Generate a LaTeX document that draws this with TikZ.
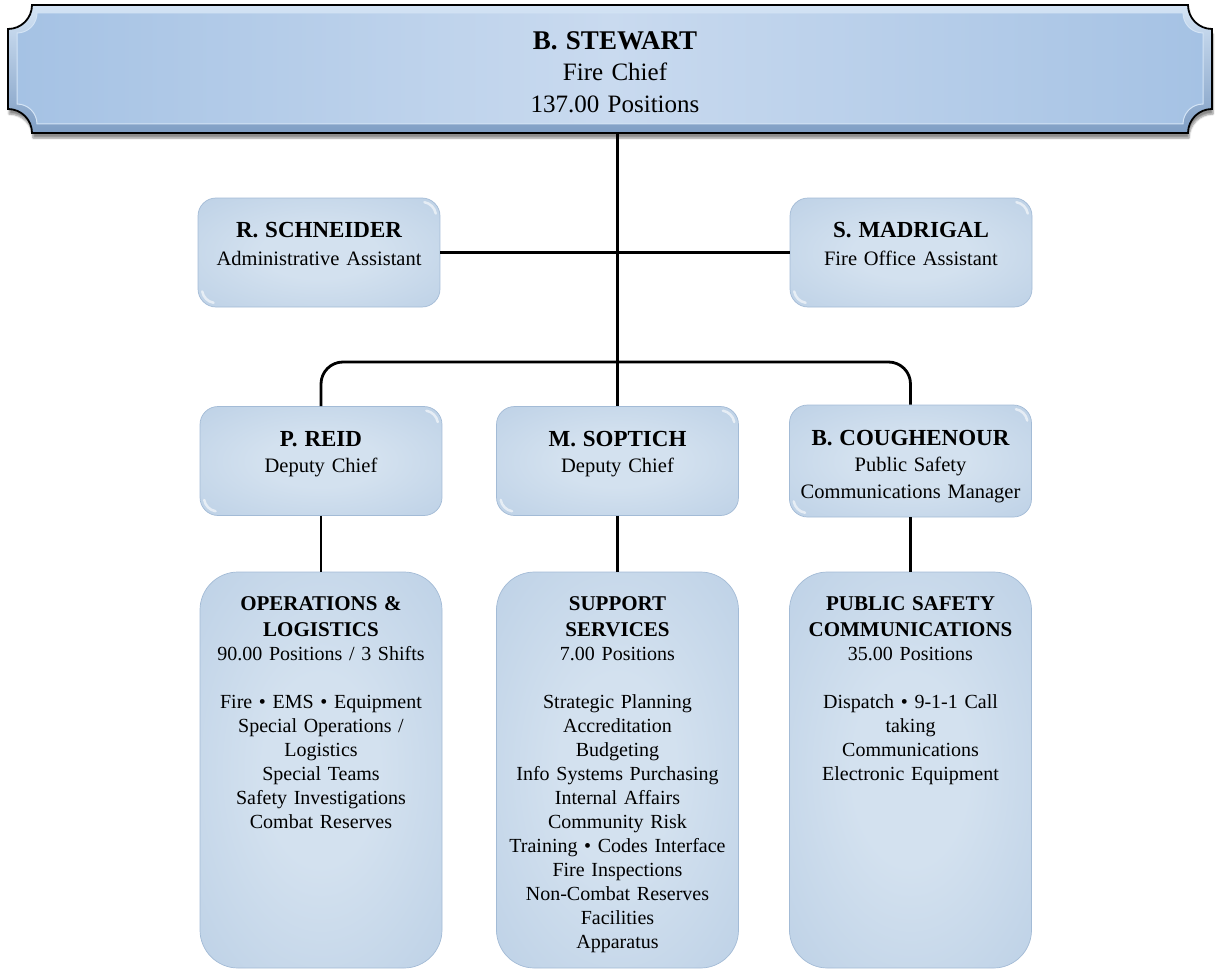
\documentclass[tikz,border=0pt]{standalone}
\usepackage{fontspec}
\setmainfont{Liberation Serif}
\usetikzlibrary{shadows.blur}

\definecolor{bxout}{HTML}{B1C8E1}
\definecolor{bxin}{HTML}{D3E1EF}
\definecolor{bxedge}{HTML}{A3BBD6}
\definecolor{bnout}{HTML}{A5C2E4}
\definecolor{bnin}{HTML}{C9DAEF}
\definecolor{bnrimtop}{HTML}{D4E4F5}
\definecolor{bnrimbot}{HTML}{7F9EC4}

\pgfdeclareradialshading{boxglow}{\pgfpoint{0bp}{0bp}}{%
  color(0bp)=(bxin); color(12bp)=(bxin); color(50bp)=(bxout); color(100bp)=(bxout)}

% plaque outline with concave (scooped) corners: x0,y0,x1,y1,r
\newcommand\plaquepath[5]{%
  ({#1+#5},#2) -- ({#3-#5},#2)
  .. controls ({#3-#5},{#2+0.552*#5}) and ({#3-0.552*#5},{#2+#5}) .. (#3,{#2+#5})
  -- (#3,{#4-#5})
  .. controls ({#3-0.552*#5},{#4-#5}) and ({#3-#5},{#4-0.552*#5}) .. ({#3-#5},#4)
  -- ({#1+#5},#4)
  .. controls ({#1+#5},{#4-0.552*#5}) and ({#1+0.552*#5},{#4-#5}) .. (#1,{#4-#5})
  -- (#1,{#2+#5})
  .. controls ({#1+0.552*#5},{#2+#5}) and ({#1+#5},{#2+0.552*#5}) .. ({#1+#5},#2)
  -- cycle}

\tikzset{
  gloss/.style={path picture={
      \draw[white,opacity=.6,line width=2.5pt,line cap=round]
        ([xshift=-15.6pt,yshift=-4.2pt]path picture bounding box.north east)
        arc[start angle=80,end angle=10,radius=14pt];
      \draw[white,opacity=.6,line width=2.5pt,line cap=round]
        ([xshift=4.2pt,yshift=15.6pt]path picture bounding box.south west)
        arc[start angle=190,end angle=260,radius=14pt];}},
  smallbox/.style={draw=bxedge, line width=0.7pt, rounded corners=18pt,
    shading=boxglow, minimum width=242pt, minimum height=109pt,
    inner sep=0pt, gloss},
  bigbox/.style={smallbox, rounded corners=38pt, minimum height=396pt},
  txt/.style={align=center, text width=236pt, inner sep=0pt, text=black,
    anchor=base, font=\fontsize{20.5}{28}\selectfont},
  bigtxt/.style={txt, font=\fontsize{20}{24}\selectfont},
  conn/.style={draw=black, line width=2.8pt},
}

\newcommand\nm[1]{{\fontsize{23}{28}\selectfont\bfseries #1}}
\newcommand\hd[1]{{\fontsize{21}{24}\selectfont\bfseries #1}}

\begin{document}
\begin{tikzpicture}[x=1pt,y=-1pt]
\useasboundingbox (0,0) rectangle (1215,971);

% ---- title plaque ----
\node[inner sep=0pt, minimum width=1204pt, minimum height=128pt] (banner) at (610,69) {};
\path[blur shadow={shadow xshift=1pt, shadow yshift=-5pt, shadow blur steps=6, shadow opacity=45},
      top color=bnrimtop, bottom color=bnrimbot, draw=black, line width=1.8pt]
  \plaquepath{8}{5}{1212}{133}{24};
\path[left color=bnout, right color=bnout, middle color=bnin, draw=bnrimtop, line width=1pt]
  \plaquepath{17}{13}{1203}{124}{20};
\node[txt, text width=400pt, font=\fontsize{25}{31.5}\selectfont] (bannertxt) at (615,49.5)
  {{\fontsize{27}{31.5}\selectfont\bfseries B. STEWART}\\Fire Chief\\137.00 Positions};

% ---- boxes ----
\node[smallbox] (schneider) at (319,252.5) {};
\node[smallbox] (madrigal) at (911,252.5) {};
\node[smallbox] (reid) at (321,461) {};
\node[smallbox] (soptich) at (617.5,461) {};
\node[smallbox, minimum height=112pt] (cough) at (910.5,461) {};
\node[bigbox] (ops) at (321,770) {};
\node[bigbox] (supp) at (617.5,770) {};
\node[bigbox] (psc) at (910.5,770) {};

% ---- connectors ----
\coordinate (split) at (617.5,362);
\draw[conn] (soptich.north |- banner.south) -- (soptich.north);
\draw[conn] (schneider.east) -- (madrigal.west);
\draw[conn, rounded corners=22pt] (reid.north) |- (split) -| (cough.north);
\draw[conn] (reid.south) -- (ops.north);
\draw[conn] (soptich.south) -- (supp.north);
\draw[conn] (cough.south) -- (psc.north);

% ---- texts ----
\node[txt] (schneidertxt) at (319,237)
  {\nm{R. SCHNEIDER}\\Administrative Assistant};
\node[txt] (madrigaltxt) at (911,237)
  {\nm{S. MADRIGAL}\\Fire Office Assistant};
\node[txt, font=\fontsize{20.5}{26.5}\selectfont] (reidtxt) at (321,446)
  {\nm{P. REID}\\Deputy Chief};
\node[txt, font=\fontsize{20.5}{26.5}\selectfont] (soptichtxt) at (617.5,446)
  {\nm{M. SOPTICH}\\Deputy Chief};
\node[txt, font=\fontsize{20.5}{26.5}\selectfont] (coughtxt) at (910.5,445)
  {\nm{B. COUGHENOUR}\\Public Safety\\Communications Manager};

\node[bigtxt] (opstxt) at (321,610)
  {\hd{OPERATIONS \&}\\[2.5pt]\hd{LOGISTICS}\\90.00 Positions / 3 Shifts\\[24pt]
   Fire • EMS • Equipment\\Special Operations /\\Logistics\\
   Special Teams\\Safety Investigations\\Combat Reserves};
\node[bigtxt] (supptxt) at (617.5,610)
  {\hd{SUPPORT}\\[2.5pt]\hd{SERVICES}\\7.00 Positions\\[24pt]
   Strategic Planning\\Accreditation\\Budgeting\\Info Systems Purchasing\\
   Internal Affairs\\Community Risk\\Training • Codes Interface\\
   Fire Inspections\\Non-Combat Reserves\\Facilities\\Apparatus};
\node[bigtxt] (psctxt) at (910.5,610)
  {\hd{PUBLIC SAFETY}\\[2.5pt]\hd{COMMUNICATIONS}\\35.00 Positions\\[24pt]
   Dispatch • 9-1-1 Call\\taking\\Communications\\Electronic Equipment};
\end{tikzpicture}
\end{document}
